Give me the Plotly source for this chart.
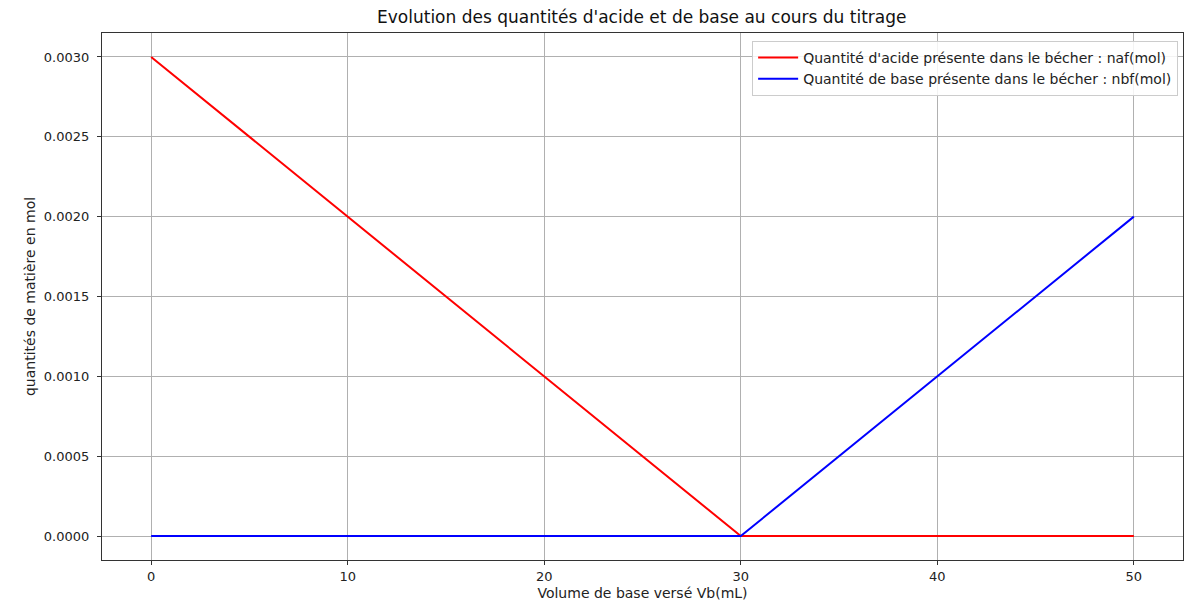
import plotly.graph_objects as go

# Volume of base added (mL) at the breakpoints of the titration
vb = [0, 30, 50]
# Amount of acid left in the beaker (mol)
naf = [0.003, 0.0, 0.0]
# Amount of base left in the beaker (mol)
nbf = [0.0, 0.0, 0.002]

x_ticks = [0, 10, 20, 30, 40, 50]
y_ticks = [0.0, 0.0005, 0.0010, 0.0015, 0.0020, 0.0025, 0.0030]

font = "DejaVu Sans, Arial, sans-serif"

fig = go.Figure()
fig.add_trace(go.Scatter(
    x=vb, y=naf, mode="lines",
    line=dict(color="#ff0000", width=2),
    name="Quantité d'acide présente dans le bécher : naf(mol)",
))
fig.add_trace(go.Scatter(
    x=vb, y=nbf, mode="lines",
    line=dict(color="#0000ff", width=2),
    name="Quantité de base présente dans le bécher : nbf(mol)",
))

axis_common = dict(
    showline=True, linecolor="#333333", linewidth=1.2, mirror=True,
    showgrid=True, gridcolor="#b0b0b0", gridwidth=1,
    ticks="outside", ticklen=4, tickcolor="#333333",
    tickfont=dict(family=font, size=13, color="#222222"),
    zeroline=False, automargin=False,
)

fig.update_layout(
    width=1194, height=604,
    margin=dict(l=102, r=11, t=33, b=44),
    paper_bgcolor="white", plot_bgcolor="white",
    font=dict(family=font, size=13, color="#222222"),
    title=dict(
        text="Evolution des quantités d'acide et de base au cours du titrage",
        x=0.5375, xanchor="center", y=0.972, yanchor="middle",
        font=dict(family=font, size=17, color="#111111"),
    ),
    xaxis=dict(
        axis_common, range=[-2.5, 52.5], tickvals=x_ticks,
        title=dict(text="Volume de base versé Vb(mL)", standoff=5,
                   font=dict(family=font, size=14)),
    ),
    yaxis=dict(
        axis_common, range=[-0.00015, 0.00315], tickvals=y_ticks,
        tickformat=".4f", ticklabelstandoff=5,
        title=dict(text="quantités de matière en mol", standoff=4,
                   font=dict(family=font, size=14)),
    ),
    legend=dict(
        x=0.9955, xanchor="right", y=0.985, yanchor="top",
        bgcolor="rgba(255,255,255,0.85)", bordercolor="#cccccc", borderwidth=1,
        font=dict(family=font, size=14, color="#222222"),
        tracegroupgap=0, itemwidth=40,
    ),
    showlegend=True,
)

fig.write_html("out.html")
